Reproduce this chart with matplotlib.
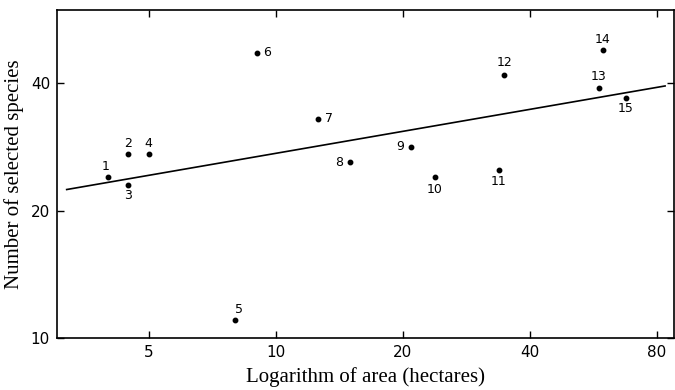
import matplotlib
matplotlib.use("Agg")
import matplotlib.pyplot as plt
from matplotlib.ticker import FixedLocator, FixedFormatter, NullLocator

# Data
site_ids = [str(i) for i in range(1, 16)]
area = [4.0, 4.47, 4.47, 5.0, 8.0, 9.0, 12.6, 15.0, 20.9, 23.8, 33.8, 34.8, 58.3, 59.6, 67.6]
species = [24.0, 27.2, 23.0, 27.2, 11.0, 47.1, 32.9, 26.0, 28.3, 24.0, 24.9, 41.8, 38.9, 47.8, 36.9]
fit_x = [3.18, 84.0]
fit_y = [22.4, 39.4]
x_ticks = [5, 10, 20, 40, 80]
y_ticks = [10, 20, 40]

# Label offsets in points (dx, dy)
offsets = [(-2, 3), (0, 3), (0, -8), (0, 3), (3, 3), (5, 0), (5, 0), (-5, 0),
           (-5, 0), (0, -9), (0, -8), (0, 4), (0, 4), (0, 3), (0, -8)]
aligns = [("center", "bottom"), ("center", "bottom"), ("center", "center"),
          ("center", "bottom"), ("center", "bottom"), ("left", "center"),
          ("left", "center"), ("right", "center"), ("right", "center"),
          ("center", "center"), ("center", "center"), ("center", "bottom"),
          ("center", "bottom"), ("center", "bottom"), ("center", "center")]

num_font = ["Liberation Sans Narrow", "DejaVu Sans"]
serif_font = ["Liberation Serif", "DejaVu Serif"]

fig = plt.figure(figsize=(6.75, 3.9), dpi=100)
ax = fig.add_axes([57 / 675, 1 - 338 / 390, (674 - 57) / 675, (338 - 10) / 390])
ax.set_xscale("log")
ax.set_yscale("log")
ax.set_xlim(3.03, 87.8)
ax.set_ylim(10, 59.5)

ax.plot(fit_x, fit_y, color="black", lw=1.2, solid_capstyle="butt")
ax.plot(area, species, "o", color="black", ms=3.2, ls="none")

for sid, x, y, (dx, dy), (ha, va) in zip(site_ids, area, species, offsets, aligns):
    ax.annotate(sid, (x, y), xytext=(dx, dy), textcoords="offset points",
                ha=ha, va=va, fontsize=9, family=num_font)

ax.xaxis.set_major_locator(FixedLocator(x_ticks))
ax.xaxis.set_major_formatter(FixedFormatter([str(t) for t in x_ticks]))
ax.xaxis.set_minor_locator(NullLocator())
ax.yaxis.set_major_locator(FixedLocator(y_ticks))
ax.yaxis.set_major_formatter(FixedFormatter([str(t) for t in y_ticks]))
ax.yaxis.set_minor_locator(NullLocator())

ax.tick_params(axis="both", which="major", direction="in", length=5, width=1.0,
               top=True, right=True, labelsize=11, pad=5)
for lab in ax.get_xticklabels() + ax.get_yticklabels():
    lab.set_family(num_font)

for sp in ax.spines.values():
    sp.set_linewidth(1.2)

ax.set_xlabel("Logarithm of area (hectares)", fontsize=15, family=serif_font, labelpad=5)
ax.set_ylabel("Number of selected species", fontsize=15, family=serif_font, labelpad=5)

fig.savefig("out.png", dpi=100)
